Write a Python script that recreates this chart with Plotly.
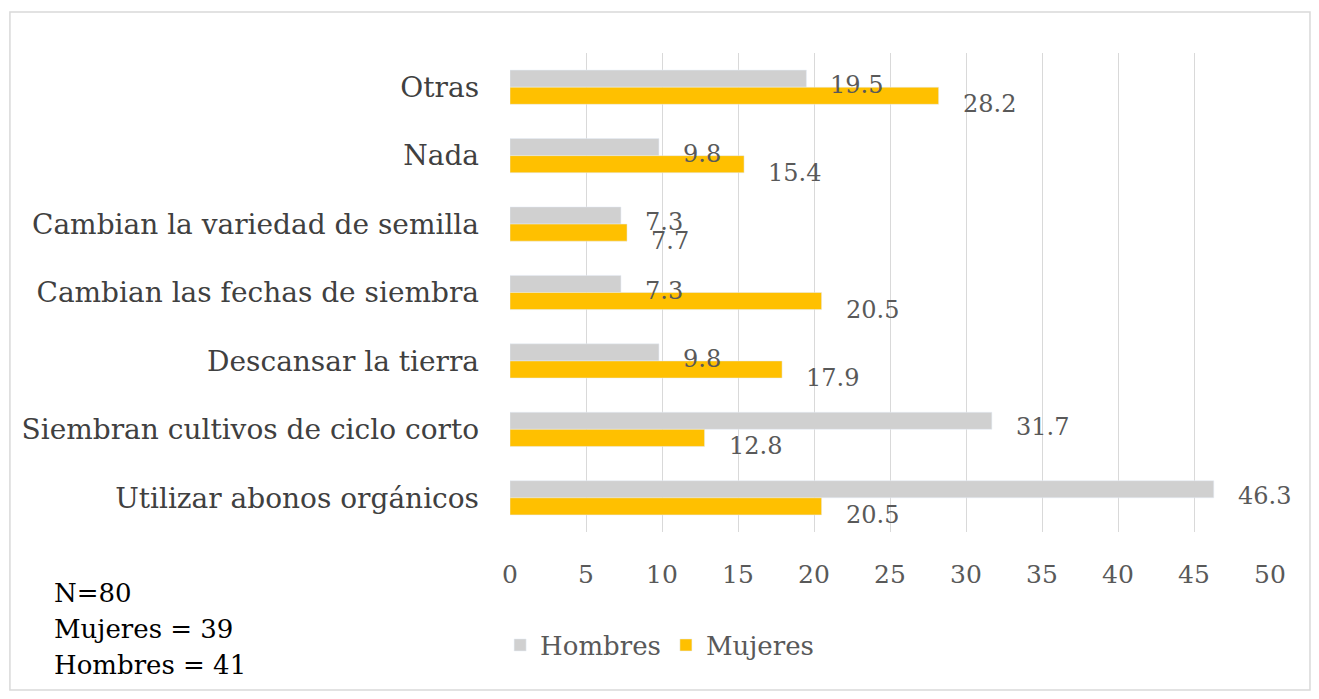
import plotly.graph_objects as go

categories = [
    "Otras",
    "Nada",
    "Cambian la variedad de semilla",
    "Cambian las fechas de siembra",
    "Descansar la tierra",
    "Siembran cultivos de ciclo corto",
    "Utilizar abonos orgánicos",
]
hombres = [19.5, 9.8, 7.3, 7.3, 9.8, 31.7, 46.3]
mujeres = [28.2, 15.4, 7.7, 20.5, 17.9, 12.8, 20.5]
x_ticks = [0, 5, 10, 15, 20, 25, 30, 35, 40, 45, 50]
note_lines = ["N=80", "Mujeres = 39", "Hombres = 41"]

FONT = "DejaVu Serif"
GRAY = "#d0d0d0"
GOLD = "#ffc000"

fig = go.Figure()
fig.add_trace(go.Bar(y=categories, x=hombres, name="Hombres", orientation="h",
                     marker=dict(color=GRAY)))
fig.add_trace(go.Bar(y=categories, x=mujeres, name="Mujeres", orientation="h",
                     marker=dict(color=GOLD)))

annotations = []
for c, h, m in zip(categories, hombres, mujeres):
    annotations.append(dict(x=h, y=c, xref="x", yref="y", text=f"{h:.1f}",
                            showarrow=False, xanchor="left", xshift=22, yshift=2,
                            font=dict(family=FONT, size=24, color="#595959")))
    annotations.append(dict(x=m, y=c, xref="x", yref="y", text=f"{m:.1f}",
                            showarrow=False, xanchor="left", xshift=22, yshift=-17,
                            font=dict(family=FONT, size=24, color="#595959")))

# note lines, page y centres ~593, 630, 665 ; plot spans 53..532 px
for i, line in enumerate(note_lines):
    annotations.append(dict(x=-0.603, y=-(61 + 36 * i) / 479, xref="paper", yref="paper",
                            text=line, showarrow=False, xanchor="left", yanchor="middle",
                            font=dict(family=FONT, size=26, color="#000000")))

fig.update_layout(
    width=1319, height=699,
    margin=dict(l=502, r=57, t=45, b=175),
    paper_bgcolor="white", plot_bgcolor="white",
    barmode="group", bargap=0.5, bargroupgap=0,
    font=dict(family=FONT, size=24, color="#595959"),
    showlegend=True,
    legend=dict(orientation="h", x=-0.013, xanchor="left", y=-0.236, yanchor="middle",
                font=dict(family=FONT, size=26, color="#595959"),
                itemwidth=30, traceorder="normal"),
    xaxis=dict(range=[0, 50], tickvals=x_ticks, showgrid=True, gridcolor="#d9d9d9",
               gridwidth=1, zeroline=False, showline=False, ticks="",
               ticklabelstandoff=25,
               tickfont=dict(family=FONT, size=25, color="#595959")),
    yaxis=dict(autorange="reversed", showgrid=False, showline=False, ticks="",
               ticklabelstandoff=30,
               tickfont=dict(family=FONT, size=28, color="#404040")),
    annotations=annotations,
    shapes=[dict(type="rect", xref="paper", yref="paper",
                 x0=-0.658, x1=1.0526, y0=-0.33, y1=1.0856,
                 line=dict(color="#d9d9d9", width=1.5), fillcolor="rgba(0,0,0,0)",
                 layer="below")],
)

fig.write_html("out.html")
